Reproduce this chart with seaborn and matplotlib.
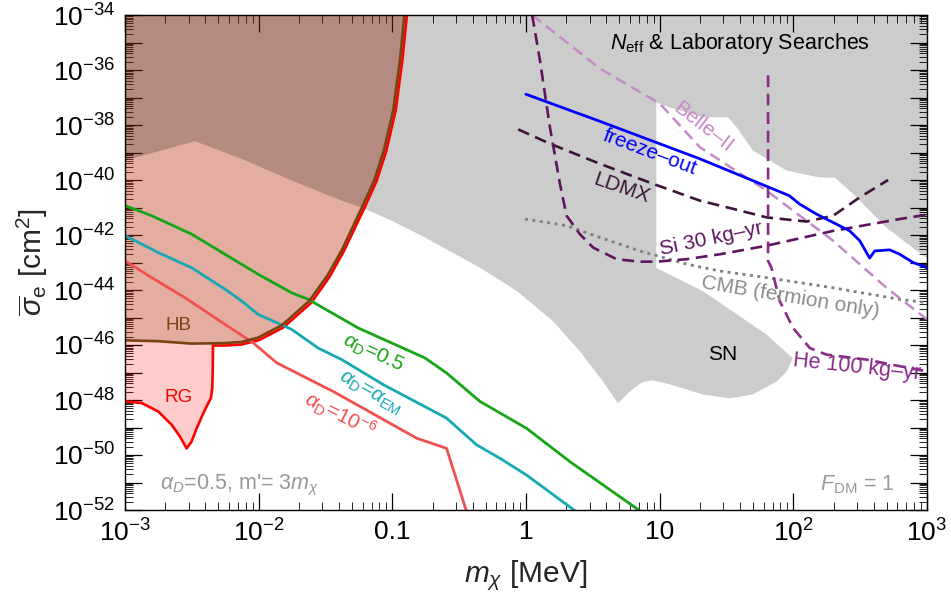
import numpy as np
import matplotlib
matplotlib.use("Agg")
import matplotlib.pyplot as plt
import seaborn as sns
from matplotlib.ticker import LogLocator, NullFormatter

# ---------------- data (log10 of m_chi [MeV] and sigma_e [cm^2]) ----------------
# RG (red giant) bound
rg_logm = [-3, -2.875, -2.751, -2.651, -2.589, -2.539, -2.502, -2.464, -2.414, -2.377,
           -2.357, -2.347, -2.344, -2.342, -2.252, -2.126, -1.996, -1.815, -1.606, -1.468,
           -1.363, -1.210, -1.118, -1.045, -0.975, -0.925, -0.891]
rg_logs = [-48.05, -48.11, -48.42, -48.90, -49.33, -49.76, -49.51, -49.03, -48.48, -48.11,
           -47.93, -47.57, -46.96, -46.02, -46.02, -45.98, -45.82, -45.36, -44.46, -43.51,
           -42.59, -41.03, -40.04, -38.94, -37.47, -35.65, -34.0]
# HB (horizontal branch) bound
hb_logm = [-3.0, -2.753, -2.501, -2.252, -2.127, -2.003, -1.826, -1.620, -1.484, -1.379,
           -1.227, -1.135, -1.063, -0.993, -0.943, -0.9095]
hb_logs = [-45.83, -45.86, -45.95, -45.93, -45.89, -45.73, -45.28, -44.39, -43.46, -42.56,
           -40.99, -40.01, -38.91, -37.46, -35.64, -34.0]
# N_eff & laboratory searches + SN excluded region (outline)
excl_logm = [-3, -3, -2.476, -2.127, -1.753, -1.379, -1.205, -1.005, -0.756, -0.345, -0.068,
             0.201, 0.403, 0.575, 0.687, 0.777, 0.867, 0.942, 1.076, 1.323, 1.525, 1.697,
             1.877, 1.951, 1.996, 1.800, 1.323, 0.975, 0.975, 1.076, 1.323, 1.510, 1.577,
             1.697, 1.951, 2.198, 2.310, 2.445, 2.699, 2.924, 3.0, 3.0]
excl_logs = [-34, -39.29, -38.59, -39.23, -40.02, -40.75, -41.05, -41.48, -42.09, -43.19, -44.04,
             -45.13, -46.23, -47.32, -48.12, -47.69, -47.36, -47.28, -47.43, -47.80, -47.94, -47.80,
             -47.32, -46.96, -46.48, -45.62, -44.04, -43.20, -37.18, -37.36, -37.72, -37.72, -38.09,
             -38.93, -39.66, -39.91, -39.91, -40.50, -41.74, -42.58, -42.83, -34]
# freeze-in curves
a05_logm = [-3, -2.80, -2.501, -2.252, -2.003, -1.754, -1.629, -1.256, -0.756, -0.594, -0.345,
            0.004, 0.328, 0.864]
a05_logs = [-40.93, -41.30, -41.97, -42.70, -43.43, -44.10, -44.34, -45.38, -46.47, -47.02, -48.05,
            -49.03, -50.24, -52.07]
aem_logm = [-3, -2.875, -2.751, -2.502, -2.252, -2.127, -2.003, -1.754, -1.555, -1.379, -1.068,
            -0.594, -0.370, -0.195, 0.004, 0.378]
aem_logs = [-42.03, -42.33, -42.64, -43.19, -43.97, -44.40, -44.89, -45.43, -46.11, -46.53, -47.44,
            -48.66, -49.63, -50.12, -50.73, -52.07]
a1e6_logm = [-3, -2.800, -2.551, -2.252, -2.041, -1.865, -1.442, -0.818, -0.594, -0.444]
a1e6_logs = [-42.94, -43.55, -44.28, -45.25, -45.92, -46.65, -47.69, -49.39, -49.76, -52.07]
# freeze-out
fo_logm = [-0.001, 0.544, 1.301, 1.970, 2.045, 2.173, 2.422, 2.497, 2.571, 2.609, 2.722,
           2.796, 2.896, 3.0]
fo_logs = [-36.88, -37.85, -39.23, -40.57, -40.87, -41.24, -41.85, -42.21, -42.84, -42.58, -42.54,
           -42.70, -43.00, -43.19]
# projections
belle_logm = [0.046, 0.553, 1.001, 1.301, 1.800, 2.298, 2.697, 3.0]
belle_logs = [-34.0, -35.95, -37.22, -38.81, -40.39, -42.21, -43.92, -45.07]
ldmx_logm = [-0.058, 0.179, 0.553, 0.951, 1.301, 1.550, 1.800, 2.098, 2.298, 2.497, 2.709]
ldmx_logs = [-38.16, -38.68, -39.41, -40.14, -40.75, -41.05, -41.36, -41.51, -41.30, -40.63, -40.00]
si_logm = [0.046, 0.104, 0.179, 0.254, 0.304, 0.403, 0.503, 0.678, 0.852, 0.977, 1.200, 1.451,
           1.800, 2.298, 2.796, 3.0]
si_logs = [-34.0, -35.64, -38.08, -40.14, -41.30, -41.97, -42.46, -42.88, -42.97, -42.97, -42.88,
           -42.70, -42.39, -41.85, -41.42, -41.26]
he_logm = [1.811, 1.811, 1.836, 1.898, 1.998, 2.123, 2.248, 2.547, 2.796, 3.0]
he_logs = [-36.19, -42.94, -43.19, -44.40, -45.38, -46.11, -46.35, -46.53, -46.77, -46.96]
cmb_logm = [-0.008, 0.304, 0.553, 0.852, 1.201, 1.451, 1.800, 2.298, 2.796, 3.0]
cmb_logs = [-41.42, -41.66, -42.09, -42.58, -43.06, -43.31, -43.55, -43.92, -44.34, -44.46]

x_ticks = [1e-3, 1e-2, 1e-1, 1, 10, 1e2, 1e3]
x_tick_labels = [r"$10^{-3}$", r"$10^{-2}$", "0.1", "1", "10", r"$10^{2}$", r"$10^{3}$"]
y_exponents = list(range(-52, -33))


def L(a):
    return 10.0 ** np.asarray(a, dtype=float)


# ---------------- style ----------------
sns.set_theme(style="ticks")
plt.rcParams["font.family"] = ["Liberation Sans", "DejaVu Sans"]
plt.rcParams["mathtext.fontset"] = "custom"
plt.rcParams["mathtext.rm"] = "Liberation Sans"
plt.rcParams["mathtext.it"] = "Liberation Sans:italic"
plt.rcParams["mathtext.bf"] = "Liberation Sans:bold"
plt.rcParams["axes.edgecolor"] = "black"
plt.rcParams["xtick.color"] = "black"
plt.rcParams["ytick.color"] = "black"

W, H = 951, 598
fig = plt.figure(figsize=(W / 100, H / 100), dpi=100)
x0, x1, y0, y1 = 125, 927, 15, 510
ax = fig.add_axes([x0 / W, 1 - y1 / H, (x1 - x0) / W, (y1 - y0) / H])
ax.set_xscale("log")
ax.set_yscale("log")

ytop = 1e-34
# RG and HB filled regions
ax.fill_between(L(rg_logm), L(rg_logs), ytop, color=(1, 0, 0), alpha=0.2, lw=0, zorder=1)
ax.fill_between(L(hb_logm), L(hb_logs), ytop, color=(144 / 255, 84 / 255, 36 / 255), alpha=0.25,
                lw=0, zorder=1.1)
# excluded gray region (translucent black on top of the fills)
ax.fill(L(excl_logm), L(excl_logs), color="black", alpha=0.2, lw=0, zorder=2)


def line(lm, ls_, color, lw=1.9, style="-", z=3):
    sns.lineplot(x=L(lm), y=L(ls_), sort=False, estimator=None, color=color, lw=lw,
                 linestyle=style, ax=ax, zorder=z)


dash = (0, (4.5, 2.5))
line(rg_logm, rg_logs, "#ff0000", lw=1.9, z=3)
line(hb_logm, hb_logs, "#7a4210", lw=1.9, z=3.1)
line(a05_logm, a05_logs, "#16a516", lw=2.0)
line(aem_logm, aem_logs, "#17a8b2", lw=2.0)
line(a1e6_logm, a1e6_logs, "#f25050", lw=2.0)
line(cmb_logm, cmb_logs, "#808080", lw=2.0, style=(0, (1.1, 1.6)))
line(belle_logm, belle_logs, "#c28ac6", lw=1.8, style=dash)
line(ldmx_logm, ldmx_logs, "#3c1438", lw=1.9, style=dash)
line(si_logm, si_logs, "#5e145e", lw=1.9, style=dash)
line(he_logm, he_logs, "#8a2a8a", lw=1.9, style=dash)
line(fo_logm, fo_logs, "#0000ff", lw=2.0, z=3.5)

# axes
ax.set_xlim(1e-3, 1e3)
ax.set_ylim(1e-52, 1e-34)
ax.set_xticks(x_ticks, x_tick_labels)
ax.set_yticks([10.0 ** k for k in y_exponents],
              [(r"$10^{%d}$" % k) if k % 2 == 0 else "" for k in y_exponents])
minor = np.arange(2, 10)
ax.xaxis.set_minor_locator(LogLocator(base=10, subs=minor, numticks=200))
ax.yaxis.set_minor_locator(LogLocator(base=10, subs=minor, numticks=200))
ax.xaxis.set_minor_formatter(NullFormatter())
ax.yaxis.set_minor_formatter(NullFormatter())
ax.tick_params(which="both", direction="in", top=True, right=True)
ax.tick_params(which="major", length=12, width=0.9, labelsize=19, pad=7)
ax.tick_params(which="minor", length=5.5, width=0.6)
for s in ax.spines.values():
    s.set_linewidth(1.0)
    s.set_color("black")
    s.set_zorder(10)

ax.set_xlabel(r"$m_\chi$ [MeV]", fontsize=21.5, labelpad=8)
ax.set_ylabel(r"$\overline{\sigma}_{\rm e}$ [cm$^2$]", fontsize=21.5, labelpad=2)


def txt(xp, yp, s, color, size, rot=0, ha="center", va="center"):
    ax.text((xp - x0) / (x1 - x0), (y1 - yp) / (y1 - y0), s, transform=ax.transAxes,
            color=color, fontsize=size, rotation=rot, rotation_mode="anchor",
            ha=ha, va=va, zorder=6)


txt(740, 43, r"$N_{\rm eff}$ & Laboratory Searches", "black", 15.5)
txt(648, 157.5, "freeze–out", "#0000ff", 15, -20.6, va="baseline")
txt(620, 193, "LDMX", "#3c1438", 15, -19, va="baseline")
txt(700, 131, "Belle–II", "#c28ac6", 15, -38, va="baseline")
txt(712, 244.5, "Si 30 kg–yr", "#5e145e", 15, 12, va="baseline")
txt(790, 302.5, "CMB (fermion only)", "#8c8c8c", 15, -9.3, va="baseline")
txt(856, 373, "He 100 kg–yr", "#8a2a8a", 15.5, -6, va="baseline")
txt(723, 355, "SN", "black", 15)
txt(179, 325, "HB", "#7a4210", 13.5)
txt(179, 397, "RG", "#ff0000", 13.5)
txt(373, 353, r"$\alpha_{\rm D}$=0.5", "#16a516", 15, -25)
txt(370, 393, r"$\alpha_{\rm D}$=$\alpha_{\rm EM}$", "#17a8b2", 15, -30)
txt(340, 415, r"$\alpha_{\rm D}$=10$^{-6}$", "#f25050", 15, -27)
txt(160, 485, r"$\alpha_D$=0.5, m'= 3$m_\chi$", "#999999", 15.5, 0, ha="left")
txt(895, 485, r"$F_{\rm DM}$ = 1", "#999999", 15.5, 0, ha="right")

fig.savefig("out.png", dpi=100)
